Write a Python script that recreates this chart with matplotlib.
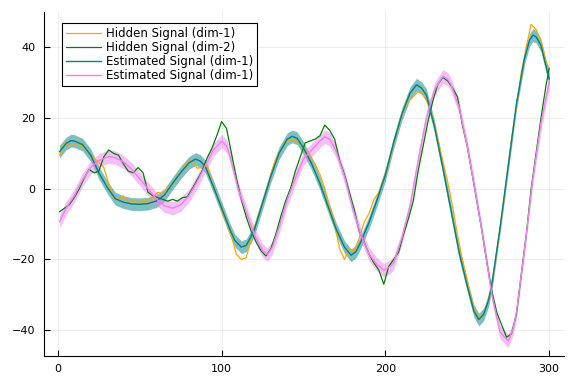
import matplotlib
matplotlib.use("Agg")
import matplotlib.pyplot as plt
import numpy as np

# estimated signal (dim-1), tracks the orange hidden signal
est1_x = [1, 5, 8, 10, 15, 20, 25, 30, 35, 40, 45, 50, 55, 60, 65, 70, 75, 80, 84, 87,
          90, 95, 100, 105, 108, 112, 115, 118, 120, 125, 130, 135, 140, 143, 146, 150,
          155, 160, 165, 170, 175, 179, 182, 185, 190, 195, 200, 205, 210, 215, 219, 222,
          225, 230, 235, 240, 245, 250, 254, 257, 260, 263, 265, 270, 275, 280, 285, 288,
          290, 292, 295, 300]
est1 = [10.5, 12.8, 13.6, 13.5, 12.5, 9.5, 4.5, 0.5, -2.8, -3.8, -4.3, -4.4, -4.2, -3.5,
        -1.8, 1.5, 4.6, 7.3, 8.4, 7.8, 6.3, 0.5, -5.5, -11.5, -14.6, -16.5, -16.0, -13.5,
        -11.5, -4.0, 3.5, 10.0, 14.0, 14.8, 14.3, 11.5, 7.0, 1.5, -5.0, -11.5, -16.5,
        -18.8, -17.8, -15.0, -9.5, -3.0, 4.0, 13.0, 21.0, 27.0, 29.4, 28.5, 26.5, 17.5,
        6.0, -6.0, -18.0, -27.5, -34.5, -37.0, -35.5, -31.5, -27.0, -11.0, 6.5, 24.0,
        37.0, 42.0, 43.4, 43.0, 40.5, 31.0]
# estimated signal (second one), tracks the green hidden signal
est2_x = [1, 5, 10, 15, 20, 25, 31, 35, 40, 45, 50, 55, 60, 65, 70, 75, 80, 85, 90, 95,
          100, 103, 105, 110, 115, 120, 125, 128, 131, 135, 140, 145, 150, 155, 160, 163,
          166, 170, 175, 180, 185, 190, 195, 199, 203, 205, 210, 215, 220, 225, 230, 235,
          238, 240, 245, 250, 255, 260, 265, 270, 275, 278, 280, 285, 290, 295, 300]
est2 = [-9.3, -5.5, -2.0, 2.5, 6.0, 8.0, 9.1, 8.8, 7.6, 5.5, 2.8, 0.0, -2.8, -4.8, -5.5,
        -4.5, -2.0, 2.0, 6.5, 11.0, 13.5, 12.0, 9.5, 0.0, -6.5, -13.0, -17.5, -18.6,
        -16.5, -11.0, -3.2, 3.0, 8.5, 11.0, 13.5, 14.7, 14.0, 10.5, 3.5, -5.5, -13.0,
        -18.5, -21.5, -23.0, -22.0, -21.0, -14.0, -5.0, 8.0, 20.0, 28.0, 31.8, 31.0,
        29.5, 23.0, 12.0, -1.0, -15.0, -30.0, -40.5, -43.0, -39.5, -35.0, -17.0, 2.8,
        18.5, 30.2]
band1 = 1.8
band2 = 1.9

# hidden signals, sampled every 3 steps
hid_x = list(range(1, 299, 3)) + [300]
hidden1 = [9.5, 13, 12, 12.5, 13, 11.5, 10, 8.5, 7.5, 6,
           1.5, -2.5, -3, -2, -4, -3, -4.5, -3, -4, -2.5,
           -1, -1.5, 0.5, 1, 3.5, 5, 7.5, 8, 5.8, 6,
           6.5, 2, -2, -6, -9.5, -13.5, -18.5, -20, -19.5, -14,
           -9.5, -5, -1, 4, 8.5, 11, 13, 14, 13.5, 12.5,
           11, 9.5, 7, 4, 0, -5, -10, -17, -20, -17,
           -17.5, -14, -9.5, -7, -3, -1, 3, 7, 12.5, 17.5,
           22, 24.6, 26, 27.5, 27, 24, 20, 14, 8, 2,
           -5, -13, -20, -26, -32, -36.5, -36, -33, -27, -18,
           -8, 3, 14, 23, 33, 40, 46.5, 45, 42, 36,
           34]
hidden2 = [-6.5, -5.5, -4.5, -2.5, 0, 3, 5.5, 4.5, 5, 9,
           11, 10, 9.5, 7, 5, 4.5, 6, 4.5, -1, -2,
           -2.5, -3, -3.5, -3, -3.5, -2.5, -2.3, 0, 2.5, 5,
           8.6, 11.4, 15, 19, 17, 10, 3, -3, -8, -12,
           -15, -17.5, -19, -17, -13, -8, -3.5, 0, 5, 9,
           13, 13.5, 14, 15, 18, 16.5, 14, 8, 4, -1,
           -6, -12, -15, -18.5, -21, -23, -27, -22, -20, -18,
           -13, -8.5, -3.5, 5, 12, 19, 25, 29.5, 31.5, 30.5,
           28.5, 26, 18, 12, 4, -4, -12, -21, -29, -35,
           -38.5, -42, -41, -35.5, -24, -13, 0, 10, 20, 29,
           34]

labels = ["Hidden Signal (dim-1)", "Hidden Signal (dim-2)",
          "Estimated Signal (dim-1)", "Estimated Signal (dim-1)"]

fig = plt.figure(figsize=(5.76, 3.84), dpi=100)
ax = fig.add_axes([0.0764, 0.0737, 0.9026, 0.8953])

e1 = np.array(est1)
e2 = np.array(est2)
ax.plot(hid_x, hidden1, color="#FFA500", lw=0.9, label=labels[0])
ax.plot(hid_x, hidden2, color="#008000", lw=0.9, label=labels[1])
ax.fill_between(est1_x, e1 - band1, e1 + band1, color="#008080", alpha=0.5, lw=0)
ax.plot(est1_x, est1, color="#008080", lw=1.0, label=labels[2])
ax.fill_between(est2_x, e2 - band2, e2 + band2, color="#EE82EE", alpha=0.5, lw=0)
ax.plot(est2_x, est2, color="#EE82EE", lw=1.0, label=labels[3])

ax.set_xlim(-8.5, 309)
ax.set_ylim(-47.2, 50)
ax.set_xticks([0, 100, 200, 300])
ax.set_yticks([-40, -20, 0, 20, 40])
ax.set_yticklabels(["\u221240", "\u221220", "0", "20", "40"])

ax.grid(True, color="black", alpha=0.08, lw=0.6)
for s in ["top", "right"]:
    ax.spines[s].set_visible(False)
ax.tick_params(direction="in", length=4, width=0.8, labelsize=8, colors="black", pad=6)

leg = ax.legend(loc="upper left", bbox_to_anchor=(0.035, 0.968), borderaxespad=0,
                fontsize=8.5, frameon=True, fancybox=False, handlelength=2.9,
                handletextpad=0.45, labelspacing=0.08, borderpad=0.35)
leg.get_frame().set_edgecolor("black")
leg.get_frame().set_linewidth(0.8)
leg.get_frame().set_alpha(1)

fig.savefig("out.png", dpi=100)
